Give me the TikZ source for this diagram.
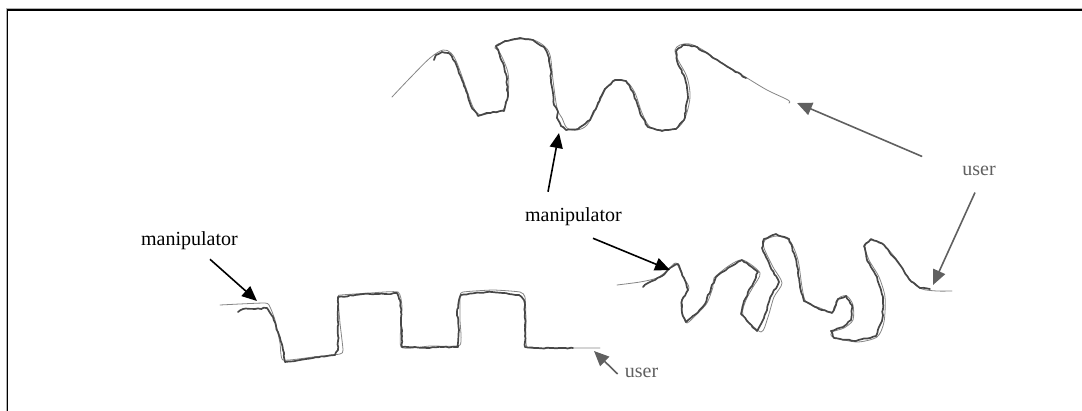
\documentclass[tikz,border=0pt]{standalone}
\usepackage{fontspec}
\setmainfont{Liberation Serif}
\usetikzlibrary{arrows.meta,decorations.pathmorphing}

\definecolor{ugray}{HTML}{606060}
\definecolor{thintrace}{HTML}{858585}
\definecolor{thicktrace}{HTML}{474747}

\begin{document}
\begin{tikzpicture}[x=1pt,y=-1pt,
  lbl/.style={inner sep=0pt, font=\fontsize{20}{22}\selectfont},
  mlbl/.style={lbl, text=black},
  ulbl/.style={lbl, text=ugray},
  tip/.style={-{Triangle[length=15pt,width=13pt]}},
  marrow/.style={tip, draw=black, line width=1.6pt},
  uarrow/.style={tip, draw=ugray, line width=1.6pt},
  guide/.style={draw=thintrace, line width=0.8pt, line join=round, line cap=round},
  follow/.style={draw=thicktrace, line width=1.7pt, line join=round, line cap=round,
    decorate, decoration={random steps, segment length=3pt, amplitude=0.6pt}}
]
\pgfmathsetseed{7}
\useasboundingbox (0,0) rectangle (1082,410);

% frame (only its top and left sides fall on the page)
\draw[gray!60, line width=1pt] (6,8.6) rectangle (1100,430);
\draw[black, line width=1.5pt] (7.6,10) rectangle (1100,430);

% ---------- upper trace ----------
\draw[guide] plot[smooth, tension=0.55] coordinates {
  (392,97) (410,78) (430,58) (443,50) (451,53) (457,63) (465,85) (473,107) (480,115)
  (493,112) (503,110) (508,95) (508,73) (500,53) (495,48) (498,44) (513,40) (530,39)
  (543,45) (550,55) (553,80) (557,108) (562,118) (567,128) (577,130) (587,125)
  (597,107) (607,87) (617,80) (627,82) (635,93) (642,113) (650,127) (663,130)
  (677,128) (685,118) (690,97) (687,77) (678,60) (675,50) (680,45) (690,44) (703,50)
  (717,60) (747,78) (767,90) (788,100) (789,103)};
\draw[follow] plot[sharp plot] coordinates {
  (434,60) (436,55) (442,52) (450,54) (456,64) (460,75) (464,86) (468,97) (471,106)
  (478,116) (484,114) (493,112) (504,111) (508,96) (507,85) (506,74) (503,63)
  (499,53) (496,46) (505,41) (520,38) (533,40) (544,47) (549,58) (551,70) (551,80)
  (553,93) (554,105) (558,112) (557,118) (561,126) (566,130) (578,129) (590,120)
  (598,103) (606,88) (615,80) (626,81) (633,92) (637,103) (640,113) (648,127)
  (662,131) (676,129) (684,120) (688,98) (687,88) (685,78) (677,61) (676,51)
  (683,45) (694,46) (705,52) (720,62) (733,70) (746,78)};

% ---------- lower left trace ----------
\draw[guide] plot[smooth, tension=0.3] coordinates {
  (220,305) (265,303) (270,307) (275,320) (280,343) (283,360) (313,357) (340,354)
  (343,350) (340,323) (338,297) (341,295) (370,293) (398,292) (402,307) (401,347)
  (430,346) (460,345) (460,320) (460,296) (463,292) (493,290) (520,292) (525,297)
  (526,320) (527,347) (553,348) (600,348)};
\draw[follow] plot[sharp plot] coordinates {
  (238,312) (243,309) (255,309) (267,308) (273,317) (276,326) (279,335) (283,350)
  (285,362) (300,360) (313,358) (335,355) (338,350) (338,336) (338,322) (338,310)
  (338,297) (355,295) (370,294) (385,294) (397,293) (400,300) (401,312) (401,325)
  (402,336) (402,347) (415,347) (427,348) (443,347) (458,347) (459,330) (457,313)
  (459,300) (461,295) (475,293) (487,292) (503,293) (519,295) (524,300) (525,312)
  (525,325) (525,336) (525,347) (538,348) (550,348) (562,348) (573,348)};

% ---------- lower right trace ----------
\draw[guide] plot[smooth, tension=0.45] coordinates {
  (617,285) (640,282) (657,278) (668,270) (676,263) (683,277) (689,288) (681,302)
  (683,315) (687,323) (698,313) (707,303) (713,287) (714,278) (730,265) (743,260)
  (760,273) (753,287) (746,300) (743,315) (761,332) (768,317) (774,297) (782,283)
  (773,267) (764,248) (765,240) (777,236) (790,241) (798,260) (802,287) (806,302)
  (820,308) (833,312) (839,298) (847,296) (853,305) (853,320) (844,328) (832,332)
  (833,337) (857,342) (877,337) (884,322) (885,297) (879,277) (869,260) (865,246)
  (872,240) (883,244) (897,260) (910,280) (922,289) (937,291) (952,291)};
\draw[follow] plot[sharp plot] coordinates {
  (643,287) (648,283) (655,280) (662,276) (670,268) (678,264) (684,278) (688,290)
  (682,300) (682,313) (686,322) (696,314) (705,304) (711,288) (716,277) (728,268)
  (742,260) (758,272) (751,287) (744,301) (741,314) (749,323) (757,331) (764,318)
  (771,296) (779,282) (770,266) (766,257) (762,248) (764,239) (776,234) (789,239)
  (796,259) (798,273) (800,287) (804,301) (819,309) (832,313) (838,299) (846,296)
  (852,305) (851,320) (843,327) (831,331) (834,338) (856,341) (876,336) (882,321)
  (883,309) (883,297) (877,277) (867,260) (864,246) (871,239) (884,245) (897,261)
  (909,279) (920,288) (930,289)};

% ---------- labels ----------
\node[mlbl] (mL) at (189.5,240.5) {manipulator};
\node[mlbl] (mM) at (573.5,216.5) {manipulator};
\node[ulbl] (uR) at (979,171) {user};
\node[ulbl] (uB) at (641.5,372.5) {user};

% arrow tips on the traces
\coordinate (tL)  at (257,301);
\coordinate (tMu) at (559,133);
\coordinate (tMr) at (670,270);
\coordinate (tRu) at (797,103);
\coordinate (tRd) at (933,285);
\coordinate (tB)  at (594,351);

% ---------- pointers ----------
\draw[marrow] ([shift={(20.5,9.5)}]mL.south) -- (tL);
\draw[marrow] ([shift={(-25.5,-15.5)}]mM.north) -- (tMu);
\draw[marrow] ([shift={(19.5,12.5)}]mM.south) -- (tMr);
\draw[uarrow] ([shift={(-40,-9.5)}]uR.north west) -- (tRu);
\draw[uarrow] ([shift={(-4,16.5)}]uR.south) -- (tRd);
\draw[uarrow] ([shift={(-7,1.5)}]uB.west) -- (tB);
\end{tikzpicture}
\end{document}
